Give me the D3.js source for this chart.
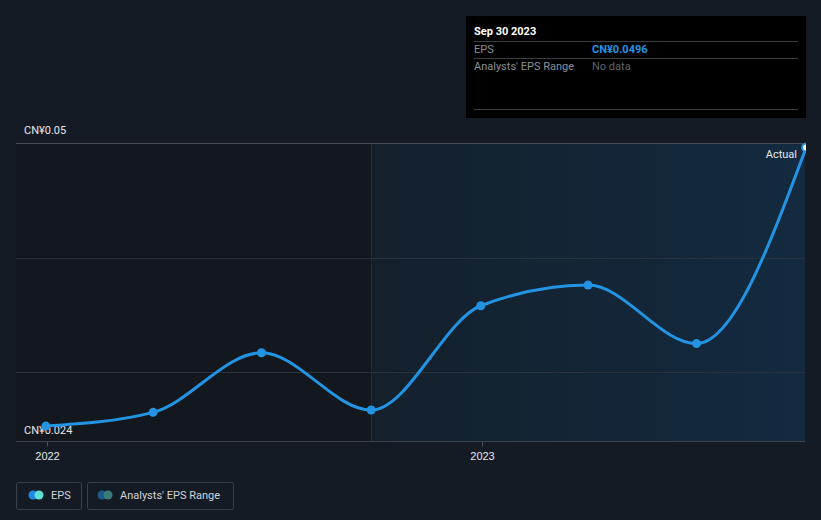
<!DOCTYPE html>
<html><head><meta charset="utf-8">
<script src="https://cdn.jsdelivr.net/npm/d3@7/dist/d3.min.js"></script>
<style>
html,body{margin:0;padding:0;background:#151b25;}
svg{display:block;font-family:Roboto,"Open Sans",sans-serif;}
</style></head>
<body>
<svg id="c" width="821" height="520"></svg>
<script>
const dates = ["2021-12-31","2022-03-31","2022-06-30","2022-09-30","2022-12-31","2023-03-31","2023-06-30","2023-09-30"];
const eps = [0.0253, 0.0265, 0.0317, 0.0267, 0.0358, 0.0376, 0.0325, 0.0496];
const yTicks = [0.03, 0.04, 0.05];
const yLabels = ["CN¥0.05", "CN¥0.024"];
const xTickLabels = ["2022", "2023"];
const forecastStart = "2022-09-30";

const parse = d3.timeParse("%Y-%m-%d");
const data = dates.map((d,i)=>({date:parse(d), v:eps[i]}));
const svg = d3.select("#c");

const x = d3.scaleTime().domain([parse("2022-01-01"), parse("2023-01-01")]).range([47, 482]);
const y = d3.scaleLinear().domain([0.024, 0.05]).range([441, 143]);
const left = 16, right = 805;

const defs = svg.append("defs");
const g = defs.append("linearGradient").attr("id","sh").attr("x1","0").attr("x2","1").attr("y1","0").attr("y2","0");
g.append("stop").attr("offset","0").attr("stop-color","#14202c");
g.append("stop").attr("offset","1").attr("stop-color","#132a40");
const clip = defs.append("clipPath").attr("id","pc");
clip.append("rect").attr("x",0).attr("y",0).attr("width",right+1).attr("height",520);

const fx = Math.round(x(parse(forecastStart)));
// past region
svg.append("rect").attr("x",left).attr("y",143).attr("width",fx-left).attr("height",441-143).attr("fill","#13171e");
// shaded region
svg.append("rect").attr("x",fx).attr("y",143).attr("width",right-fx).attr("height",441-143).attr("fill","url(#sh)");
svg.append("line").attr("x1",fx+0.5).attr("x2",fx+0.5).attr("y1",143).attr("y2",441).attr("stroke","#1f2c3a").attr("stroke-width",1);

// gridlines
yTicks.forEach(t=>{
  svg.append("line").attr("x1",left).attr("x2",right).attr("y1",Math.round(y(t))+0.5).attr("y2",Math.round(y(t))+0.5)
    .attr("stroke", t===0.05 ? "#474c55" : "#2a323d").attr("stroke-width",1);
});

// x axis
const xAxis = d3.axisBottom(x).tickValues([parse("2022-01-01"), parse("2023-01-01")]).tickFormat((d,i)=>xTickLabels[i]).tickSize(5).tickPadding(6);
const ax = svg.append("g").attr("transform","translate(0,441.5)").call(xAxis);
ax.select(".domain").remove();
ax.selectAll(".tick line").attr("stroke","#4a5058");
ax.selectAll(".tick text").attr("fill","#e6e8ea").attr("font-size","11px");
svg.append("line").attr("x1",left).attr("x2",right).attr("y1",441.5).attr("y2",441.5).attr("stroke","#3d434c");

// y labels
svg.append("text").attr("x",24).attr("y",y(0.05)-9).attr("fill","#e6e8ea").attr("font-size","11px").text(yLabels[0]);
svg.append("text").attr("x",24).attr("y",y(0.024)-7).attr("fill","#e6e8ea").attr("font-size","11px").text(yLabels[1]);

// line
const plot = svg.append("g").attr("clip-path","url(#pc)");
const line = d3.line().x(d=>x(d.date)).y(d=>y(d.v)).curve(d3.curveMonotoneX);
plot.append("path").datum(data).attr("d",line).attr("fill","none").attr("stroke","#2394e4").attr("stroke-width",3);
plot.selectAll("circle.pt").data(data.slice(0,-1)).enter().append("circle").attr("class","pt")
  .attr("cx",d=>x(d.date)).attr("cy",d=>y(d.v)).attr("r",4.5).attr("fill","#2394e4");
const last = data[data.length-1];
plot.append("circle").attr("cx",x(last.date)).attr("cy",y(last.v)).attr("r",4).attr("fill","#ffffff").attr("stroke","#2394e4").attr("stroke-width",2);

svg.append("text").attr("x",797).attr("y",158).attr("text-anchor","end").attr("fill","#e6e8ea").attr("font-size","11px").text("Actual");

// tooltip
const tt = svg.append("g");
tt.append("rect").attr("x",466).attr("y",16).attr("width",340).attr("height",102).attr("fill","#000");
tt.append("text").attr("x",474).attr("y",35).attr("fill","#fff").attr("font-size","11px").attr("font-weight","bold").text("Sep 30 2023");
[41.5,58.5,109.5].forEach(yy=>tt.append("line").attr("x1",474).attr("x2",798).attr("y1",yy).attr("y2",yy).attr("stroke","#3a3d42"));
tt.append("text").attr("x",474).attr("y",53).attr("fill","#8a8f96").attr("font-size","11px").text("EPS");
tt.append("text").attr("x",592).attr("y",53).attr("fill","#2394e4").attr("font-size","11px").attr("font-weight","bold").text("CN¥" + last.v.toFixed(4));
tt.append("text").attr("x",474).attr("y",70).attr("fill","#8a8f96").attr("font-size","11px").text("Analysts' EPS Range");
tt.append("text").attr("x",592).attr("y",70).attr("fill","#5f646b").attr("font-size","11px").text("No data");

// legend
const lg = svg.append("g");
lg.append("rect").attr("x",16.5).attr("y",482.5).attr("width",65).attr("height",27).attr("rx",2).attr("fill","none").attr("stroke","#3a404a");
lg.append("circle").attr("cx",33).attr("cy",495).attr("r",4.5).attr("fill","#1e88e5");
lg.append("circle").attr("cx",39).attr("cy",495).attr("r",4.5).attr("fill","#5ee0d6");
lg.append("text").attr("x",51).attr("y",499).attr("fill","#d0d3d7").attr("font-size","11px").text("EPS");
lg.append("rect").attr("x",87.5).attr("y",482.5).attr("width",146).attr("height",27).attr("rx",2).attr("fill","none").attr("stroke","#3a404a");
lg.append("circle").attr("cx",102).attr("cy",495).attr("r",4.5).attr("fill","#1c5a8a");
lg.append("circle").attr("cx",108).attr("cy",495).attr("r",4.5).attr("fill","#3b7c7a");
lg.append("text").attr("x",120).attr("y",499).attr("fill","#d0d3d7").attr("font-size","11px").text("Analysts' EPS Range");
</script>
</body></html>
